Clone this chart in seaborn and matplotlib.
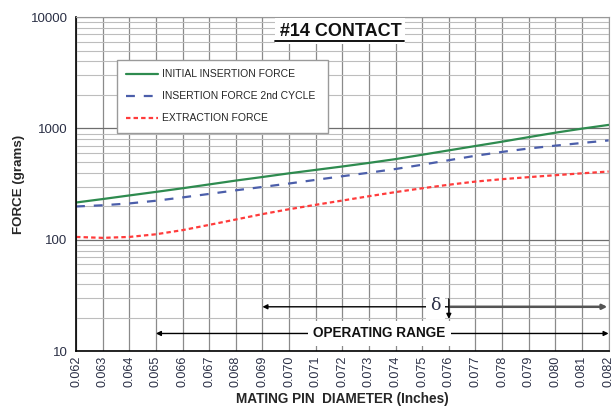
import numpy as np
import pandas as pd
import seaborn as sns
import matplotlib.pyplot as plt
from matplotlib.ticker import LogLocator, NullFormatter, FixedLocator
from matplotlib.lines import Line2D

# mating pin diameter (inches)
diameter = [0.062, 0.063, 0.064, 0.065, 0.066, 0.067, 0.068, 0.069, 0.070, 0.071, 0.072,
            0.073, 0.074, 0.075, 0.076, 0.077, 0.078, 0.079, 0.080, 0.081, 0.082]
# forces in grams
initialInsertion = [216, 232, 250, 269, 290, 314, 340, 366, 395, 424, 455,
                    490, 530, 580, 635, 695, 760, 835, 915, 995, 1075]
insertion2nd = [199, 204, 212, 224, 240, 258, 278, 298, 320, 345, 372,
                400, 432, 472, 518, 568, 615, 660, 700, 740, 780]
extraction = [106, 104, 106, 112, 122, 136, 152, 170, 188, 206, 225,
              246, 268, 290, 312, 333, 350, 365, 380, 395, 410]

seriesNames = ['INITIAL INSERTION FORCE', 'INSERTION FORCE 2nd CYCLE', 'EXTRACTION FORCE']
seriesColors = ['#2e8b4f', '#4b5eaa', '#ff3b3b']

dfForce = pd.DataFrame({'dia': diameter, seriesNames[0]: initialInsertion,
                        seriesNames[1]: insertion2nd, seriesNames[2]: extraction})

sns.set_style('white')
plt.rcParams['font.family'] = ['Liberation Sans', 'DejaVu Sans']

fig = plt.figure(figsize=(6.16, 4.16), dpi=100)
ax = fig.add_axes([0.1234, 0.156, 0.8646, 0.803])

sns.lineplot(x='dia', y=seriesNames[0], data=dfForce, ax=ax, color=seriesColors[0],
             lw=1.6, label=seriesNames[0])
sns.lineplot(x='dia', y=seriesNames[1], data=dfForce, ax=ax, color=seriesColors[1],
             lw=1.6, label=seriesNames[1]).lines[-1].set_dashes([4, 4])
sns.lineplot(x='dia', y=seriesNames[2], data=dfForce, ax=ax, color=seriesColors[2],
             lw=1.6, label=seriesNames[2]).lines[-1].set_dashes([2, 1.4])

ax.set_yscale('log')
ax.set_ylim(10, 10000)
ax.set_xlim(0.062, 0.082)
ax.xaxis.set_major_locator(FixedLocator(diameter))
ax.set_xticklabels(['%.3f' % d for d in diameter], rotation=90, fontsize=9, color='#2a2f45')
ax.yaxis.set_minor_locator(LogLocator(base=10, subs=np.arange(2, 10)))
ax.yaxis.set_minor_formatter(NullFormatter())
ax.set_yticks([10, 100, 1000, 10000])
ax.set_yticklabels(['10', '100', '1000', '10000'], fontsize=9.5, color='#2a2f45')
ax.tick_params(axis='y', which='major', length=5, width=1, direction='inout', color='black')
ax.tick_params(axis='y', which='minor', length=3, width=0.8, direction='inout', color='black')
ax.tick_params(axis='x', length=3, direction='in', color='#777777', pad=3)

ax.grid(True, which='major', axis='x', color='#8a8a8a', lw=0.9)
ax.grid(True, which='major', axis='y', color='#6e6e6e', lw=0.9)
ax.grid(True, which='minor', axis='y', color='#bdbdbd', lw=0.8)

for side in ['left', 'bottom']:
    ax.spines[side].set_color('black')
    ax.spines[side].set_linewidth(1.2)
for side in ['top', 'right']:
    ax.spines[side].set_color('#999999')
    ax.spines[side].set_linewidth(0.8)

ax.set_xlabel('MATING PIN  DIAMETER (Inches)', fontsize=9.8, fontweight='bold', labelpad=4)
ax.set_ylabel('FORCE (grams)', fontsize=9.6, fontweight='bold', labelpad=4)

leg = ax.legend(loc='upper left', bbox_to_anchor=(0.067, 0.68, 0.416, 0.207), mode='expand',
                fontsize=7.5, handlelength=3.0, labelspacing=1.15, borderpad=0.9,
                handletextpad=0.4, fancybox=False, shadow=False, edgecolor='#9a9a9a',
                framealpha=1)
leg.get_frame().set_linewidth(1.0)

# title inside the plot, underlined
ax.text(0.4965, 0.958, '#14 CONTACT', transform=ax.transAxes, ha='center', va='center',
        fontsize=13, fontweight='bold', color='#111111', zorder=5,
        bbox=dict(facecolor='white', edgecolor='none', pad=3))
ax.add_line(Line2D([0.373, 0.616], [0.927, 0.927], transform=ax.transAxes,
                   color='black', lw=1.3, zorder=6))

# delta arrows
arrowKw = dict(arrowstyle='-|>', color='black', lw=1.0, mutation_scale=7,
               shrinkA=0, shrinkB=0)
ax.annotate('', xy=(0.069, 25), xytext=(0.076, 25), arrowprops=arrowKw)
ax.annotate('', xy=(0.08195, 25), xytext=(0.076, 25),
            arrowprops=dict(arrowstyle='-|>', color='#555555', lw=1.8, mutation_scale=7,
                            shrinkA=0, shrinkB=0))
ax.annotate('', xy=(0.076, 19.5), xytext=(0.076, 29.5), arrowprops=arrowKw)
ax.text(0.0755, 25.5, '\u03b4', ha='center', va='center', fontsize=12.5, color='#2a2f45',
        family='DejaVu Serif', bbox=dict(facecolor='white', edgecolor='none', pad=3))

# operating range arrow
ax.annotate('', xy=(0.065, 14.4), xytext=(0.082, 14.4),
            arrowprops=dict(arrowstyle='<|-|>', color='black', lw=1.0, mutation_scale=7,
                            shrinkA=0, shrinkB=0))
ax.text(0.0734, 14.4, 'OPERATING RANGE', ha='center', va='center', fontsize=9.8,
        fontweight='bold', color='#111111',
        bbox=dict(facecolor='white', edgecolor='none', pad=4))

fig.savefig('out.png', dpi=100)
